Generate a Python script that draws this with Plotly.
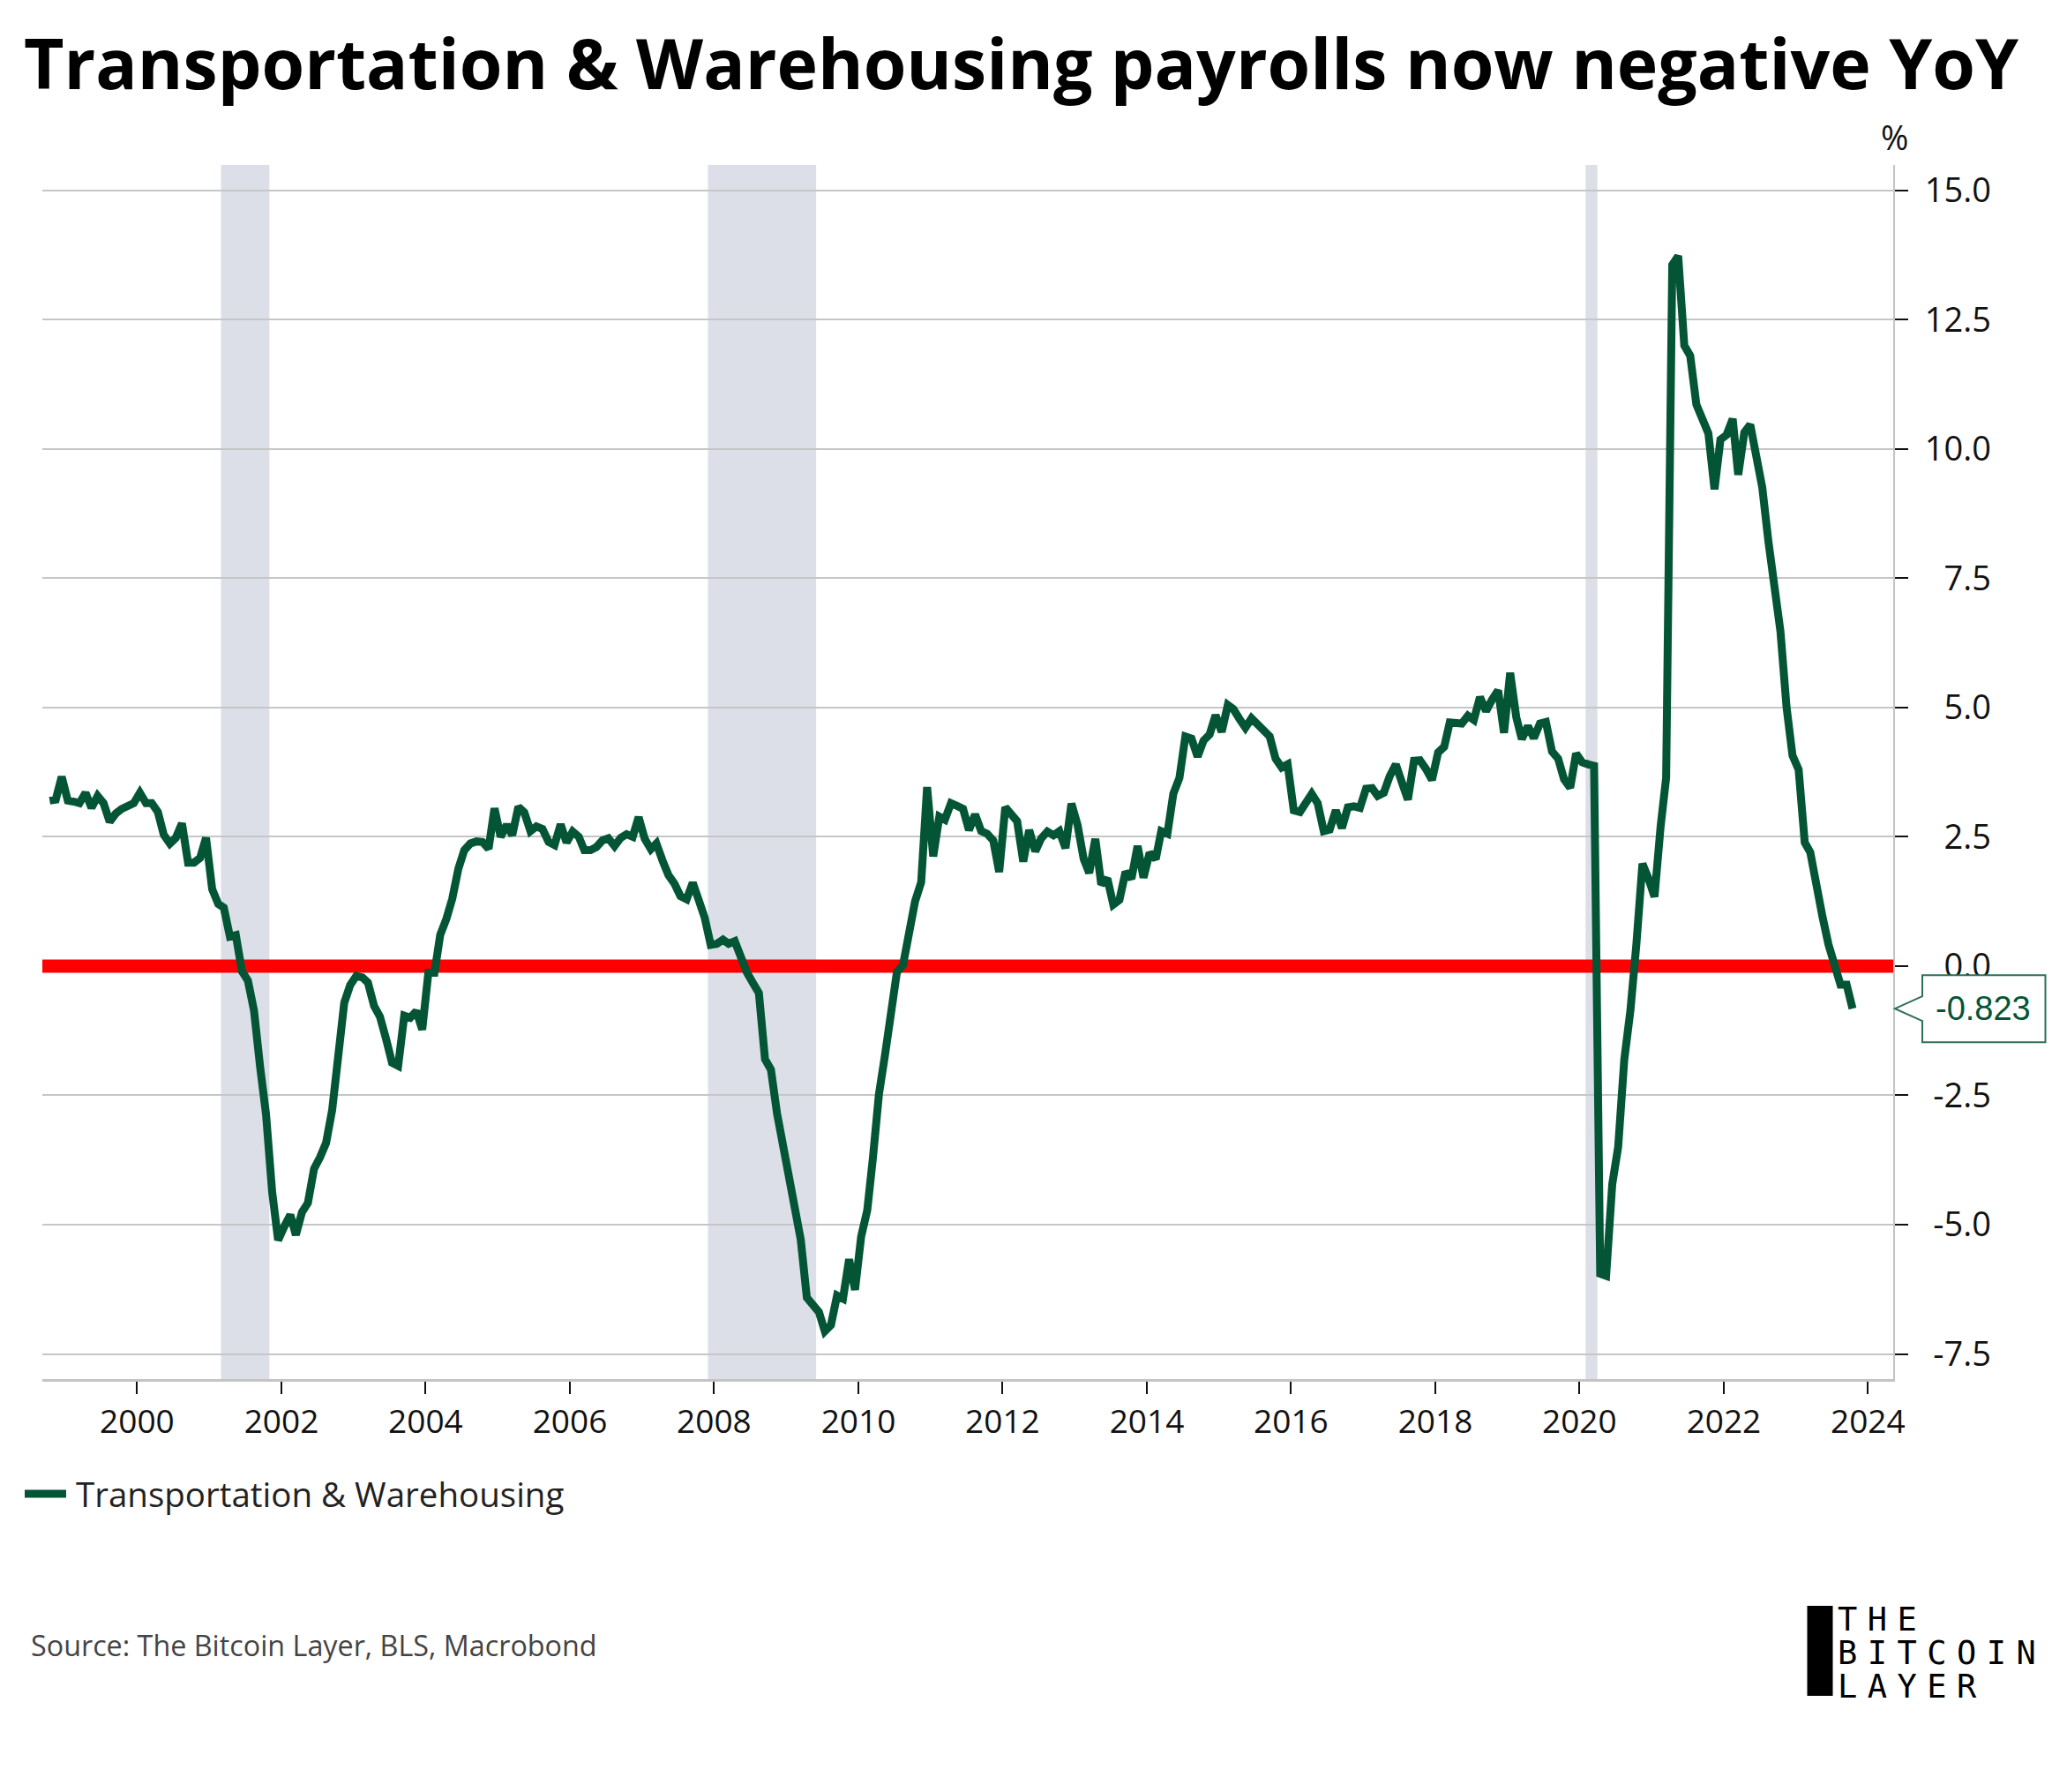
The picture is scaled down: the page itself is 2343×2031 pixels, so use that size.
import pandas as pd
import plotly.graph_objects as go

TITLE = "Transportation &amp; Warehousing payrolls now negative YoY"
SERIES_NAME = "Transportation &amp; Warehousing"
SOURCE = "Source: The Bitcoin Layer, BLS, Macrobond"
LOGO_LINES = ["THE", "BITCOIN", "LAYER"]

yoy_values = [
    3.2, 3.22, 3.66, 3.2, 3.18, 3.15, 3.35, 3.06, 3.29, 3.15,
    2.79, 2.95, 3.04, 3.11, 3.15, 3.35, 3.15, 3.15, 2.98, 2.54,
    2.37, 2.48, 2.76, 2.0, 2.0, 2.09, 2.48, 1.49, 1.2, 1.13,
    0.57, 0.6, -0.1, -0.28, -0.86, -1.95, -2.87, -4.37, -5.3, -5.04,
    -4.81, -5.2, -4.76, -4.58, -3.92, -3.7, -3.42, -2.78, -1.77, -0.71,
    -0.37, -0.19, -0.22, -0.32, -0.77, -0.98, -1.41, -1.87, -1.93, -0.96,
    -1.0, -0.87, -1.23, -0.13, -0.13, 0.6, 0.91, 1.3, 1.88, 2.24,
    2.37, 2.41, 2.4, 2.27, 3.05, 2.5, 2.73, 2.53, 3.08, 2.97,
    2.61, 2.7, 2.65, 2.4, 2.34, 2.74, 2.39, 2.6, 2.5, 2.24,
    2.24, 2.3, 2.43, 2.47, 2.32, 2.48, 2.55, 2.5, 2.88, 2.46,
    2.26, 2.37, 2.04, 1.76, 1.59, 1.35, 1.29, 1.61, 1.28, 0.93,
    0.41, 0.43, 0.51, 0.43, 0.48, 0.17, -0.12, -0.32, -0.52, -1.8,
    -2.0, -2.85, -3.5, -4.12, -4.64, -5.29, -6.41, -6.54, -6.69, -7.06,
    -6.94, -6.37, -6.43, -5.67, -6.26, -5.23, -4.72, -3.73, -2.48, -1.74,
    -1.0, -0.12, 0.02, 0.6, 1.25, 1.62, 3.46, 2.12, 2.89, 2.83,
    3.15, 3.1, 3.04, 2.63, 2.93, 2.61, 2.56, 2.43, 1.82, 3.07,
    2.94, 2.8, 2.02, 2.63, 2.22, 2.47, 2.6, 2.53, 2.61, 2.28,
    3.14, 2.73, 2.07, 1.8, 2.46, 1.58, 1.69, 1.19, 1.28, 1.82,
    1.69, 2.32, 1.71, 2.19, 2.07, 2.61, 2.56, 3.33, 3.64, 4.44,
    4.4, 4.05, 4.36, 4.48, 4.85, 4.53, 5.05, 4.97, 4.78, 4.61,
    4.79, 4.66, 4.55, 4.44, 4.01, 3.84, 3.9, 3.01, 2.98, 3.15,
    3.33, 3.15, 2.61, 2.64, 3.01, 2.67, 3.07, 3.09, 3.06, 3.43,
    3.44, 3.29, 3.35, 3.67, 3.9, 3.56, 3.22, 3.97, 3.98, 3.81,
    3.6, 4.13, 4.24, 4.71, 4.71, 4.69, 4.84, 4.76, 5.2, 4.93,
    5.15, 5.33, 4.51, 5.67, 4.81, 4.39, 4.64, 4.41, 4.69, 4.72,
    4.15, 4.01, 3.61, 3.45, 4.11, 3.94, 3.9, 3.87, -5.95, -5.99,
    -4.22, -3.5, -1.81, -0.86, 0.41, 1.98, 1.7, 1.34, 2.7, 3.64,
    13.56, 13.73, 12.0, 11.8, 10.86, 10.55, 10.3, 9.22, 10.18, 10.27,
    10.58, 9.5, 10.32, 10.47, 9.8, 9.25, 8.21, 7.34, 6.47, 5.0,
    4.07, 3.8, 2.39, 2.2, 1.46, 0.97, 0.42, 0.0, -0.36, -0.36,
    -0.823,
]
dates = pd.date_range("1998-10-01", periods=len(yoy_values), freq="MS") + pd.Timedelta(days=14)

y_ticks = [15, 12.5, 10, 7.5, 5, 2.5, 0, -2.5, -5, -7.5]
y_tick_labels = ["15.0", "12.5", "10.0", "7.5", "5.0", "2.5", "0.0", "-2.5", "-5.0", "-7.5"]
x_tick_years = list(range(2000, 2026, 2))
x_range = ["1998-09-08", "2024-05-08"]
zero_line = [0, 0]
recessions = [("2001-03-01", "2001-11-01"), ("2007-12-01", "2009-06-01"), ("2020-02-01", "2020-04-01")]

GREEN = "#035535"
GRID = "#c6c6c6"
FONT = "Open Sans"
W, H = 2343, 2031
L, R, T, B = 48, 2146, 187, 1563


def px(x):
    return (x - L) / (R - L)


def py(y):
    return (B - y) / (B - T)


fig = go.Figure()
fig.add_trace(go.Scatter(
    x=x_range, y=zero_line, mode="lines", showlegend=False, hoverinfo="skip",
    line=dict(color="#ff0000", width=15),
))
fig.add_trace(go.Scatter(
    x=dates, y=yoy_values, mode="lines", name=SERIES_NAME,
    line=dict(color=GREEN, width=9),
))
for start, end in recessions:
    fig.add_vrect(x0=start, x1=end, fillcolor="#dcdfe7", line_width=0, layer="below", opacity=1)

# callout tag anchored on the last value
fig.add_shape(
    type="path", xref="paper", yref="y", xsizemode="pixel", ysizemode="pixel",
    xanchor=1, yanchor=yoy_values[-1],
    path="M 2 0 L 33 14 L 33 38 L 172.5 38 L 172.5 -38 L 33 -38 L 33 -14 Z",
    fillcolor="white", line=dict(color="#2f6f58", width=2), layer="above",
)
fig.add_annotation(
    xref="paper", yref="y", x=1, y=yoy_values[-1], xshift=102, showarrow=False,
    xanchor="center", yanchor="middle",
    text=f"{yoy_values[-1]:.3f}", font=dict(family="Liberation Sans", size=38, color=GREEN),
)
fig.add_annotation(
    xref="paper", yref="paper", x=px(2147), y=py(155), showarrow=False,
    xanchor="center", yanchor="middle",
    text="%", font=dict(family=FONT, size=38, color="#111111"),
)
fig.add_annotation(
    xref="paper", yref="paper", x=px(33), y=py(1864), showarrow=False,
    xanchor="left", yanchor="middle", align="left", text=SOURCE,
    font=dict(family=FONT, size=32.3, color="#444444"),
)
# logo
fig.add_shape(type="rect", xref="paper", yref="paper",
              x0=px(2048.5), x1=px(2077.5), y0=py(1922), y1=py(1820),
              fillcolor="black", line_width=0, layer="above")
fig.add_annotation(
    xref="paper", yref="paper", x=px(2081), y=py(1812), showarrow=False,
    xanchor="left", yanchor="top", align="left", text="<br>".join(LOGO_LINES),
    font=dict(family="DejaVu Sans Mono", size=37, color="black"),
)

fig.update_layout(
    width=W, height=H, margin=dict(l=L, r=W - R, t=T, b=H - B, pad=0),
    paper_bgcolor="white", plot_bgcolor="white",
    font=dict(family=FONT, color="#111111"),
    title=dict(text=f"<b>{TITLE}</b>", x=27 / W, xanchor="left", y=1 - 73 / H, yanchor="middle",
               xref="container", yref="container", font=dict(family=FONT, size=78.7, color="black")),
    legend=dict(orientation="h", x=px(23), xanchor="left", y=py(1693.5), yanchor="middle",
                font=dict(family=FONT, size=38.5, color="#222222"), itemwidth=47, bgcolor="rgba(0,0,0,0)"),
    showlegend=True,
)
fig.update_xaxes(
    range=x_range, tickvals=[f"{y}-01-01" for y in x_tick_years],
    ticktext=[str(y) for y in x_tick_years], showgrid=False, zeroline=False,
    showline=True, linecolor="#c4c4c4", linewidth=3,
    ticks="outside", ticklen=14, tickwidth=2, tickcolor="#111111",
    tickfont=dict(family=FONT, size=37, color="#111111"),
)
fig.update_yaxes(
    side="right", range=[-7.986, 15.49], tickvals=y_ticks, ticktext=y_tick_labels,
    showgrid=True, gridcolor=GRID, gridwidth=2, zeroline=False,
    showline=True, linecolor="#c4c4c4", linewidth=2,
    ticks="outside", ticklen=15, tickwidth=2, tickcolor="#111111",
    tickfont=dict(family=FONT, size=38, color="#111111"),
)

post = """
document.body.style.margin = '0';
document.querySelectorAll('.ytick text').forEach(function (t) {
  t.setAttribute('text-anchor', 'end');
  t.setAttribute('x', '2257');
});
document.querySelectorAll('.annotation-text').forEach(function (t) {
  if (t.textContent.indexOf('BITCOIN') >= 0 && t.textContent.indexOf('Source') < 0) {
    t.style.letterSpacing = '0.31em';
    t.querySelectorAll('tspan.line').forEach(function (s, i) {
      s.setAttribute('dy', (i * 1.03) + 'em');
    });
  }
});
document.querySelectorAll('.legendtext').forEach(function (t) {
  t.setAttribute('x', String(parseFloat(t.getAttribute('x')) + 6));
});
"""
fig.write_html("out.html", post_script=post, config={"displayModeBar": False})
